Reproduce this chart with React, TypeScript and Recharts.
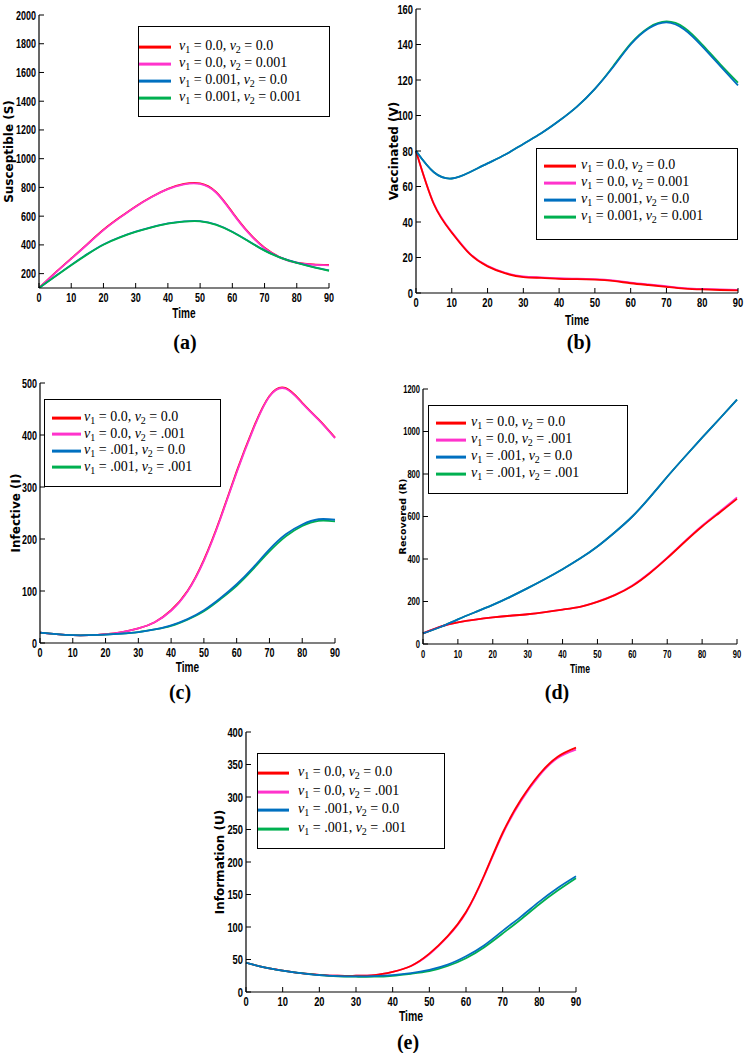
import React from 'react'
import { LineChart, Line, XAxis, YAxis, Legend } from 'recharts'

// time grid (days)
const time = [0, 5, 10, 15, 20, 25, 30, 35, 40, 45, 50, 55, 60, 65, 70, 75, 80, 85, 90]
const timeTicks = [0, 10, 20, 30, 40, 50, 60, 70, 80, 90]

// (a) Susceptible
const sRed = [100, 205, 305, 405, 505, 590, 668, 735, 790, 824, 828, 767, 627, 487, 380, 312, 277, 264, 260]
const sPink = [100, 204, 303, 403, 503, 588, 666, 733, 788, 821, 824, 763, 623, 483, 377, 310, 275, 262, 258]
const sBlue = [100, 181, 261, 336, 403, 453, 492, 524, 550, 564, 566, 542, 492, 427, 362, 312, 276, 247, 222]
const sGreen = [100, 180, 259, 334, 401, 451, 490, 522, 548, 562, 564, 540, 490, 425, 360, 310, 274, 245, 220]
const sTicks = [200, 400, 600, 800, 1000, 1200, 1400, 1600, 1800, 2000]

// (b) Vaccinated
const vRed = [80, 50, 34, 22, 15, 11, 9, 8.5, 8, 7.8, 7.5, 6.8, 5.5, 4.5, 3.5, 2.5, 2, 1.7, 1.5]
const vPink = [80, 50.3, 34.3, 22.3, 15.3, 11.3, 9.3, 8.8, 8.3, 8.1, 7.8, 7.1, 5.8, 4.8, 3.8, 2.8, 2.3, 2, 1.8]
const vBlue = [80, 68, 64.5, 68, 73, 78, 84, 90, 97, 105, 115, 127, 140, 149, 152.5, 148.5, 139, 128, 117]
const vGreen = [80, 68, 64.5, 68, 73, 78, 84, 90, 97, 105, 115, 127.5, 140.5, 149.5, 153, 149.5, 140, 129, 118.5]
const vTicks = [0, 20, 40, 60, 80, 100, 120, 140, 160]

// (c) Infective
const iRed = [20, 17, 15, 15, 17, 21, 28, 40, 63, 100, 160, 240, 330, 412, 475, 490, 462, 430, 395]
const iPink = [20, 17, 15, 15, 17, 21, 28, 40, 62, 99, 158, 238, 328, 410, 474, 489, 461, 429, 394]
const iBlue = [20, 17, 15, 15, 16, 18, 21, 26, 34, 46, 63, 86, 113, 145, 180, 209, 228, 238, 237]
const iGreen = [20, 17, 15, 15, 16, 18, 21, 26, 33, 45, 61, 84, 110, 142, 176, 205, 225, 235, 234]
const iTicks = [0, 100, 200, 300, 400, 500]

// (d) Recovered
const rRed = [50, 82, 102, 115, 125, 133, 140, 150, 162, 175, 198, 230, 273, 333, 404, 480, 553, 618, 683]
const rPink = [50, 82, 102, 115, 125, 133, 140, 150, 162, 175, 199, 231, 275, 335, 406, 483, 557, 623, 690]
const rBlue = [50, 80, 116, 150, 184, 222, 263, 306, 352, 402, 459, 526, 600, 690, 787, 880, 971, 1060, 1150]
const rGreen = [50, 80, 116, 150, 184, 222, 263, 306, 352, 402, 459, 526, 600, 690, 787, 880, 971, 1060, 1150]
const rTicks = [0, 200, 400, 600, 800, 1000, 1200]

// (e) Information
const uRed = [45, 38, 33, 29, 26.5, 25, 25, 26, 31, 40, 59, 86, 123, 180, 245, 296, 335, 362, 376]
const uPink = [45, 38, 33, 29, 26.5, 25, 25, 26, 31, 40, 58, 85, 122, 179, 243, 294, 333, 360, 373]
const uBlue = [45, 38, 33, 29, 26, 24.5, 24, 24.5, 26, 29, 34, 42, 55, 72, 94, 116, 139, 160, 178]
const uGreen = [45, 38, 33, 29, 26, 24, 23.5, 23.5, 25, 28, 32, 40, 52, 69, 90, 112, 135, 156, 175]
const uTicks = [0, 50, 100, 150, 200, 250, 300, 350, 400]

const legendLong = [['0.0', '0.0'], ['0.0', '0.001'], ['0.001', '0.0'], ['0.001', '0.001']]
const legendShort = [['0.0', '0.0'], ['0.0', '.001'], ['.001', '0.0'], ['.001', '.001']]

const seriesColors = ['#ff0000', '#ff33cc', '#0070c0', '#00b050']
const keys = ['k1', 'k2', 'k3', 'k4']

const SANS = "'Liberation Sans', Arial, sans-serif"
const SERIF = "'Liberation Serif', 'DejaVu Serif', serif"
const SQUEEZE = 0.72

function LegendBox ({ pairs, pad, lineLen, gap, first, step }) {
  return (
    <div style={{ position: 'relative', width: '100%', height: '100%', boxSizing: 'border-box', border: '1.5px solid #000', background: '#fff' }}>
      {pairs.map((p, i) => (
        <div key={i} style={{ position: 'absolute', left: pad, top: first + i * step, display: 'flex', alignItems: 'center', transform: 'translateY(-50%)', whiteSpace: 'nowrap' }}>
          <span style={{ display: 'inline-block', flex: 'none', width: lineLen, height: 3, background: seriesColors[i] }} />
          <span style={{ marginLeft: gap, fontFamily: SERIF, fontSize: 14, color: '#000', lineHeight: 1 }}>
            <i>v</i><sub style={{ fontSize: 10 }}>1</sub> = {p[0]}, <i>v</i><sub style={{ fontSize: 10 }}>2</sub> = {p[1]}
          </span>
        </div>
      ))}
    </div>
  )
}

const bottomTick = size => ({ x, y, payload }) => (
  <text transform={`translate(${x},${y}) scale(${SQUEEZE},1)`} textAnchor='middle'
    style={{ fontSize: size, fontWeight: 700, fill: '#000', fontFamily: SANS }}>{payload.value}</text>
)

const leftTick = size => ({ x, y, payload }) => (
  <text transform={`translate(${x},${y}) scale(${SQUEEZE},1)`} textAnchor='end' dy='0.36em'
    style={{ fontSize: size, fontWeight: 700, fill: '#000', fontFamily: SANS }}>{payload.value}</text>
)

const timeLabel = (size, drop) => ({ viewBox }) => (
  <text transform={`translate(${viewBox.x + viewBox.width / 2},${viewBox.y + drop}) scale(${SQUEEZE},1)`} textAnchor='middle'
    style={{ fontSize: size, fontWeight: 700, fill: '#000', fontFamily: SANS }}>Time</text>
)

function Panel ({ x0, y0, w, h, top, right, yW, xH, series, order, domain, ticks, yLabel, yLabelX, yLabelSize, tickSize, timeDrop, legend }) {
  const data = time.map((t, i) => {
    const row = { t }
    series.forEach((s, j) => { row[keys[j]] = s[i] })
    return row
  })
  const axisLine = { stroke: '#000', strokeWidth: 1.2 }
  const tickLine = { stroke: '#000' }
  return (
    <div style={{ position: 'absolute', left: x0, top: y0 }}>
      <LineChart width={w} height={h} data={data} margin={{ top, right, left: 0, bottom: 0 }}>
        <XAxis dataKey='t' type='number' domain={[0, 90]} ticks={timeTicks} tickSize={-5} tickMargin={19} height={xH}
          axisLine={axisLine} tickLine={tickLine} tick={bottomTick(tickSize)} interval={0}
          label={timeLabel(tickSize + 1.5, timeDrop)} />
        <XAxis xAxisId='top' orientation='top' dataKey='t' type='number' domain={[0, 90]} ticks={timeTicks} tickSize={-5} height={0}
          axisLine={axisLine} tickLine={tickLine} tickFormatter={() => ''} interval={0} />
        <YAxis type='number' domain={domain} ticks={ticks} tickSize={-5} tickMargin={8} width={yW} allowDataOverflow
          axisLine={axisLine} tickLine={tickLine} tick={leftTick(tickSize)} interval={0}
          label={{ value: yLabel, angle: -90, position: 'insideLeft', offset: yLabelX, style: { textAnchor: 'middle', fontSize: yLabelSize, fontWeight: 700, fill: '#000', fontFamily: "'DejaVu Sans', sans-serif" } }} />
        <YAxis yAxisId='right' orientation='right' type='number' domain={domain} ticks={ticks} tickSize={-5} width={0}
          axisLine={axisLine} tickLine={tickLine} tickFormatter={() => ''} interval={0} />
        <Legend layout='horizontal' verticalAlign='middle' align='center'
          wrapperStyle={{ left: legend.left, top: legend.top, width: legend.w, height: legend.h, margin: 0, padding: 0 }}
          content={() => <LegendBox {...legend} />} />
        {order.map(j => (
          <Line key={keys[j]} type='natural' dataKey={keys[j]} stroke={seriesColors[j]} strokeWidth={1.8}
            dot={false} isAnimationActive={false} />
        ))}
      </LineChart>
    </div>
  )
}

function Caption ({ x, y, text }) {
  return (
    <div style={{ position: 'absolute', left: x - 20, top: y - 12, width: 40, textAlign: 'center', fontFamily: SERIF, fontWeight: 700, fontSize: 20, lineHeight: '24px' }}>
      {text}
    </div>
  )
}

export default function App () {
  return (
    <div style={{ position: 'absolute', left: 0, top: 0, width: 749, height: 1053, background: '#fff' }}>
      <Panel x0={0} y0={0} w={345} h={322} top={15} right={16} yW={39} xH={34}
        series={[sRed, sPink, sBlue, sGreen]} order={[0, 1, 2, 3]} domain={[100, 2000]} ticks={sTicks}
        yLabel='Susceptible (S)' yLabelX={9} yLabelSize={12} tickSize={12.5} timeDrop={30}
        legend={{ left: 138, top: 26, w: 192, h: 91, pairs: legendLong, pad: 0, lineLen: 32, gap: 8, first: 20, step: 17 }} />
      <Panel x0={372} y0={0} w={377} h={327} top={9} right={11} yW={44} xH={34}
        series={[vRed, vPink, vBlue, vGreen]} order={[1, 0, 3, 2]} domain={[0, 160]} ticks={vTicks}
        yLabel='Vaccinated (V)' yLabelX={22} yLabelSize={12} tickSize={13} timeDrop={32}
        legend={{ left: 164, top: 148, w: 202, h: 92, pairs: legendLong, pad: 7, lineLen: 32, gap: 5, first: 17, step: 17 }} />
      <Panel x0={0} y0={360} w={350} h={317} top={23} right={15} yW={40} xH={34}
        series={[iRed, iPink, iBlue, iGreen]} order={[0, 1, 3, 2]} domain={[0, 500]} ticks={iTicks}
        yLabel='Infective (I)' yLabelX={16} yLabelSize={12} tickSize={12.5} timeDrop={29}
        legend={{ left: 44, top: 39, w: 177, h: 88, pairs: legendShort, pad: 7, lineLen: 29, gap: 3, first: 18, step: 16.5 }} />
      <Panel x0={372} y0={360} w={377} h={318} top={29} right={12} yW={51} xH={34}
        series={[rRed, rPink, rBlue, rGreen]} order={[1, 3, 0, 2]} domain={[0, 1200]} ticks={rTicks}
        yLabel='Recovered (R)' yLabelX={31} yLabelSize={9.5} tickSize={10.5} timeDrop={29}
        legend={{ left: 56, top: 45, w: 200, h: 89, pairs: legendShort, pad: 7, lineLen: 30, gap: 5, first: 17, step: 17 }} />
      <Panel x0={190} y0={710} w={400} h={316} top={22} right={14} yW={56} xH={34}
        series={[uRed, uPink, uBlue, uGreen]} order={[1, 0, 3, 2]} domain={[0, 400]} ticks={uTicks}
        yLabel='Information (U)' yLabelX={30} yLabelSize={12} tickSize={13} timeDrop={29}
        legend={{ left: 67, top: 43, w: 188, h: 96, pairs: legendShort, pad: 0, lineLen: 31, gap: 9, first: 19, step: 18.7 }} />
      <Caption x={185} y={342} text='(a)' />
      <Caption x={579} y={342} text='(b)' />
      <Caption x={180} y={692} text='(c)' />
      <Caption x={557} y={692} text='(d)' />
      <Caption x={408} y={1042} text='(e)' />
    </div>
  )
}
